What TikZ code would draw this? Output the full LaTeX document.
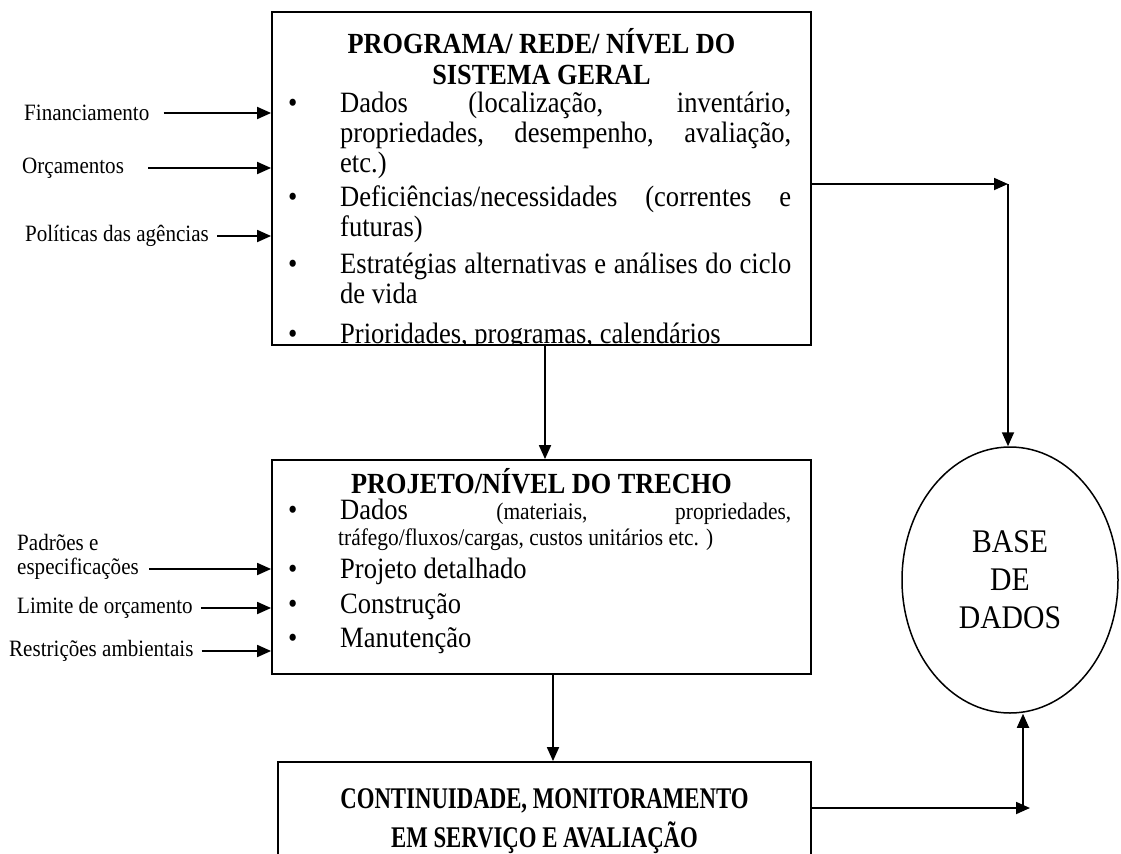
\documentclass[tikz,border=0pt]{standalone}
\usepackage{fontspec}
\setmainfont[FakeStretch=0.9]{Liberation Serif}
\newfontfamily\condserif[FakeStretch=0.76]{Liberation Serif}
\usetikzlibrary{arrows.meta,shapes.geometric}

% font sizes used in the chart
\newcommand\fxbody{\fontsize{29.5bp}{30bp}\selectfont}
\newcommand\fxhead{\fontsize{29.2bp}{30bp}\selectfont\bfseries}
\newcommand\fxsmall{\fontsize{23.8bp}{28bp}\selectfont}
\newcommand\fxlabel{\fontsize{23.4bp}{26bp}\selectfont}
\newcommand\fxdb{\fontsize{33bp}{38bp}\selectfont}
\newcommand\fxcont{\condserif\fontsize{30bp}{38bp}\selectfont\bfseries}

% width of the justified text column inside the boxes
\newlength\colw \setlength\colw{451bp}
\newcommand\jline[1]{\makebox[\colw][s]{#1}}

\begin{document}
\begin{tikzpicture}[x=1bp,y=-1bp,
  frame/.style={draw=black,line width=1.8bp,inner sep=0pt},
  txt/.style={inner sep=0pt,anchor=base west,font=\fxbody},
  smalltxt/.style={inner sep=0pt,anchor=base west,font=\fxsmall},
  dotmark/.style={inner sep=0pt,anchor=base west,font=\fxbody},
  head/.style={inner sep=0pt,anchor=base,font=\fxhead},
  conthead/.style={inner sep=0pt,anchor=base,font=\fxcont},
  lbl/.style={inner sep=0pt,anchor=west,font=\fxlabel},
  arr/.style={line width=1.8bp,-{Triangle[length=14bp,width=12bp]}},
  db/.style={draw=black,line width=1.5bp,ellipse,inner sep=0pt,
             minimum width=216bp,minimum height=266bp,align=center,font=\fxdb}
]
\clip (0,0) rectangle (1121,854);

% ---------- boxes ----------
\node[frame,minimum width=539bp,minimum height=333bp] (top) at (541.5,178.5) {};
\node[frame,minimum width=539bp,minimum height=214bp] (mid) at (541.5,567) {};
\node[frame,minimum width=533bp,minimum height=160bp] (cont) at (544.5,842) {};
\node[db] (base) at (1010,580) {BASE\\DE\\DADOS};

% ---------- program / network level ----------
\begin{scope}
  \clip (top.north west) rectangle (top.south east);
  \node[head] (h1a) at (541.5,53) {PROGRAMA/ REDE/ NÍVEL DO};
  \node[head] (h1b) at (541.5,84) {SISTEMA GERAL};
  \node[dotmark] (d1) at (288,112) {•};
  \node[txt] (l1) at (340,112) {\jline{Dados (localização, inventário,}};
  \node[txt] (l2) at (340,142) {\jline{propriedades, desempenho, avaliação,}};
  \node[txt] (l3) at (340,172) {etc.)};
  \node[dotmark] (d2) at (288,206) {•};
  \node[txt] (l4) at (340,206) {\jline{Deficiências/necessidades (correntes e}};
  \node[txt] (l5) at (340,236) {futuras)};
  \node[dotmark] (d3) at (288,273) {•};
  \node[txt] (l6) at (340,273) {\jline{Estratégias alternativas e análises do ciclo}};
  \node[txt] (l7) at (340,303) {de vida};
  \node[dotmark] (d4) at (288,343) {•};
  \node[txt] (l8) at (340,343) {Prioridades, programas, calendários};
\end{scope}

% ---------- project / section level ----------
\node[head] (h2) at (541.5,493) {PROJETO/NÍVEL DO TRECHO};
\node[dotmark] (e1) at (288,519) {•};
\node[txt] (m1) at (340,519) {\jline{Dados {\fxsmall (materiais, propriedades,}}};
\node[smalltxt] (m2) at (338,545) {tráfego/fluxos/cargas, custos unitários etc. )};
\node[dotmark] (e2) at (288,578) {•};
\node[txt] (m3) at (340,578) {Projeto detalhado};
\node[dotmark] (e3) at (288,613) {•};
\node[txt] (m4) at (340,613) {Construção};
\node[dotmark] (e4) at (288,647) {•};
\node[txt] (m5) at (340,647) {Manutenção};

% ---------- monitoring box ----------
\node[conthead] (h3a) at (544.5,808) {CONTINUIDADE, MONITORAMENTO};
\node[conthead] (h3b) at (544.5,847) {EM SERVIÇO E AVALIAÇÃO};

% ---------- inputs on the left ----------
\node[lbl] (fin) at (24,113) {Financiamento};
\node[lbl] (orc) at (22,168) {Orçamentos};
\node[lbl] (pol) at (25,236) {Políticas das agências};
\node[lbl] (pad1) at (17,542) {Padrões e};
\node[lbl] (pad2) at (17,569) {especificações};
\node[lbl] (lim) at (17,608) {Limite de orçamento};
\node[lbl] (res) at (9,651) {Restrições ambientais};

\draw[arr] ([xshift=14bp]fin.east) -- (fin.east -| top.west);
\draw[arr] ([xshift=24bp]orc.east) -- (orc.east -| top.west);
\draw[arr] ([xshift=8bp]pol.east) -- (pol.east -| top.west);
\draw[arr] ([xshift=10bp]pad2.east) -- (pad2.east -| mid.west);
\draw[arr] ([xshift=8bp]lim.east) -- (lim.east -| mid.west);
\draw[arr] ([xshift=8bp]res.east) -- (res.east -| mid.west);

% ---------- flow between levels ----------
\draw[arr] ([xshift=3.5bp]top.south) -- ([xshift=3.5bp]top.south |- mid.north);
\draw[arr] ([xshift=11.5bp]mid.south) -- ([xshift=11.5bp]mid.south |- cont.north);

% ---------- links to the database ----------
\coordinate (c1) at (1008,184);
\draw[arr] (c1 -| top.east) -- (c1);
\draw[arr] (c1) -- (c1 |- base.north);
\coordinate (c2) at (1030,808);
\coordinate (c3) at (1023,808);
\draw[arr] (c2 -| cont.east) -- (c2);
\draw[arr] (c3) -- (c3 |- base.south);
\end{tikzpicture}
\end{document}
